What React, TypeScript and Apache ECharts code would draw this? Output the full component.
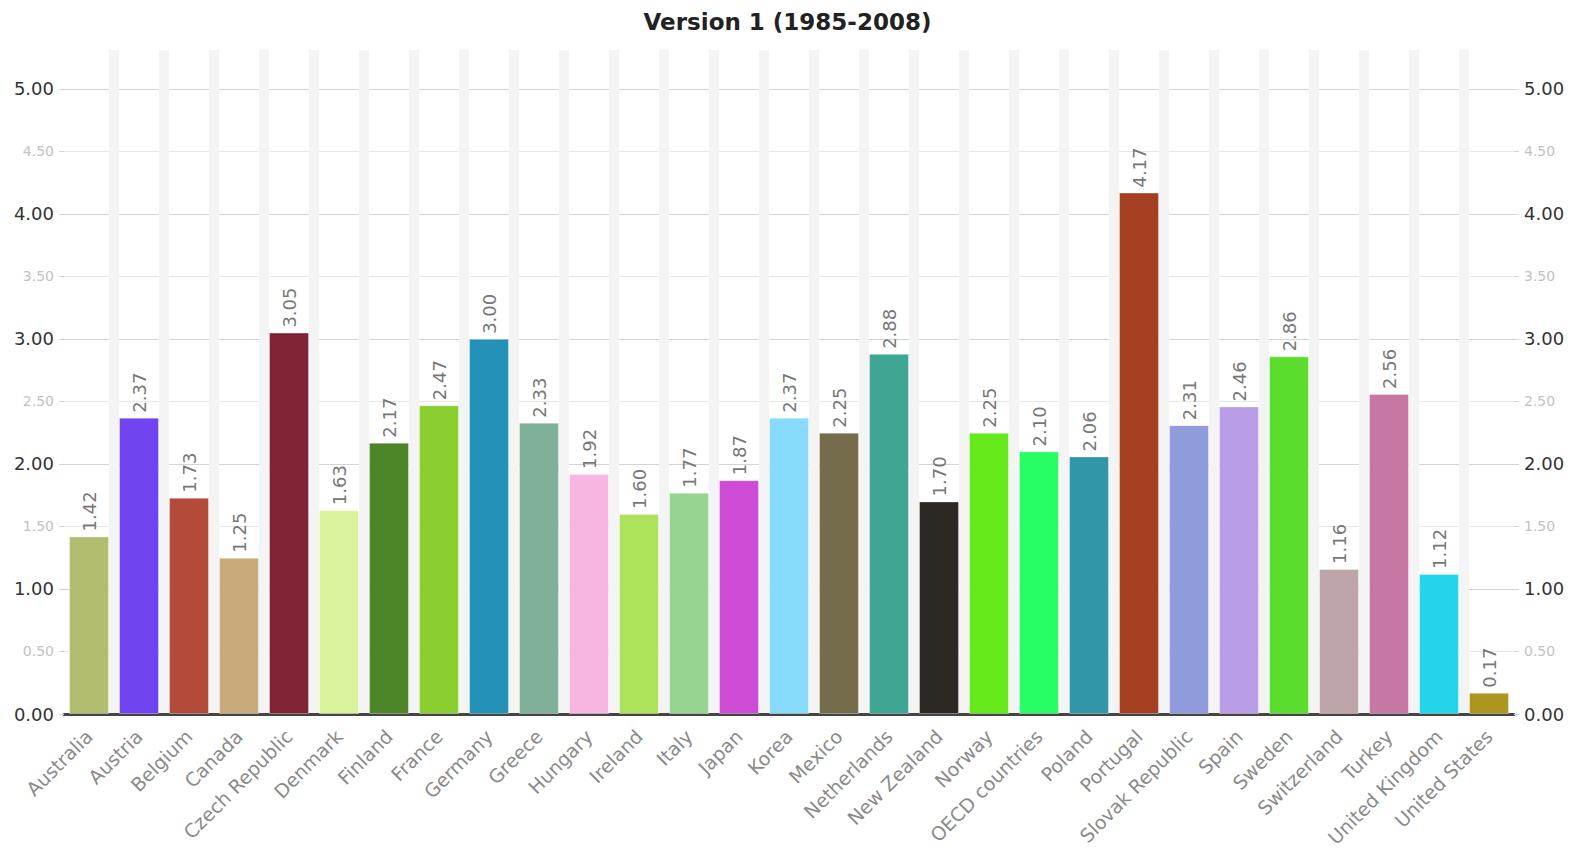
import React, { useEffect, useRef } from "react";
import * as echarts from "echarts";

const categories = [
  "Australia", "Austria", "Belgium", "Canada", "Czech Republic", "Denmark", "Finland",
  "France", "Germany", "Greece", "Hungary", "Ireland", "Italy", "Japan", "Korea", "Mexico",
  "Netherlands", "New Zealand", "Norway", "OECD countries", "Poland", "Portugal",
  "Slovak Republic", "Spain", "Sweden", "Switzerland", "Turkey", "United Kingdom", "United States",
];

const values = [
  1.42, 2.37, 1.73, 1.25, 3.05, 1.63, 2.17, 2.47, 3.0, 2.33, 1.92, 1.6, 1.77, 1.87, 2.37,
  2.25, 2.88, 1.7, 2.25, 2.1, 2.06, 4.17, 2.31, 2.46, 2.86, 1.16, 2.56, 1.12, 0.17,
];

const barColors = [
  "#b3bd6f", "#7044f0", "#b34a3a", "#c9aa7a", "#7f2335", "#d8f39b", "#4d8529", "#8ace2f",
  "#2491b6", "#80b099", "#f7b6e1", "#ade25b", "#98d491", "#cd4bd5", "#87dbfd", "#746c4a",
  "#3ea693", "#2c2924", "#66e91b", "#27fd65", "#3197a8", "#a53f22", "#8f9bda", "#b99de6",
  "#5bdd2e", "#bea5aa", "#c677a4", "#23d4ea", "#ad961d",
];

const yMin = 0;
const yMax = 5.31;
const yInterval = 0.5;

const FONT = "DejaVu Sans";

export default function App() {
  const ref = useRef<HTMLDivElement>(null);

  useEffect(() => {
    document.body.style.margin = "0";
    if (!ref.current) return;
    const chart = echarts.init(ref.current, undefined, { renderer: "svg" });

    const yLabel = {
      fontFamily: FONT,
      showMaxLabel: false,
      margin: 10,
      formatter: (v: number) => {
        const s = v.toFixed(2);
        return Math.abs(v - Math.round(v)) < 1e-6 ? `{a|${s}}` : `{b|${s}}`;
      },
      rich: {
        a: { fontFamily: FONT, fontSize: 18, color: "#333" },
        b: { fontFamily: FONT, fontSize: 14, color: "#c2c2c2" },
      },
    };

    const yBase = {
      type: "value" as const,
      min: yMin,
      max: yMax,
      interval: yInterval,
      axisLine: { show: false },
      axisTick: { show: true, length: 5, lineStyle: { color: "#d4d4d4" } },
      axisLabel: yLabel,
    };

    chart.setOption({
      animation: false,
      backgroundColor: "#fff",
      title: {
        text: "Version 1 (1985-2008)",
        left: "center",
        top: 5,
        textStyle: { fontFamily: FONT, fontSize: 23, fontWeight: "bold", color: "#222" },
      },
      grid: { left: 64, right: 61, top: 50, bottom: 144, containLabel: false },
      xAxis: {
        type: "category",
        data: categories,
        axisLine: { show: true, lineStyle: { color: "#444", width: 3 } },
        axisTick: { show: false },
        splitLine: {
          show: true,
          showMinLine: false,
          showMaxLine: false,
          lineStyle: { color: "#f4f4f4", width: 10 },
        },
        axisLabel: {
          interval: 0,
          rotate: 45,
          margin: 19,
          fontFamily: FONT,
          fontSize: 19,
          color: "#8a8a8a",
        },
      },
      yAxis: [
        {
          ...yBase,
          position: "left",
          splitLine: {
            show: true,
            showMaxLine: false,
            lineStyle: { color: ["#d4d4d4", "#e8e8e8"], width: 1.2 },
          },
        },
        {
          ...yBase,
          position: "right",
          splitLine: { show: false },
        },
      ],
      series: [
        {
          type: "bar",
          barWidth: 40,
          data: values.map((v, i) => ({
            value: v,
            itemStyle: { color: barColors[i], borderColor: "rgba(255,255,255,0.35)", borderWidth: 1 },
          })),
          label: {
            show: true,
            position: "top",
            rotate: 90,
            align: "left",
            verticalAlign: "middle",
            distance: 5,
            fontFamily: FONT,
            fontSize: 18,
            color: "#777",
            formatter: (p: any) => Number(p.value).toFixed(2),
          },
        },
      ],
    });

    return () => chart.dispose();
  }, []);

  return <div ref={ref} style={{ width: 1575, height: 858 }} />;
}
